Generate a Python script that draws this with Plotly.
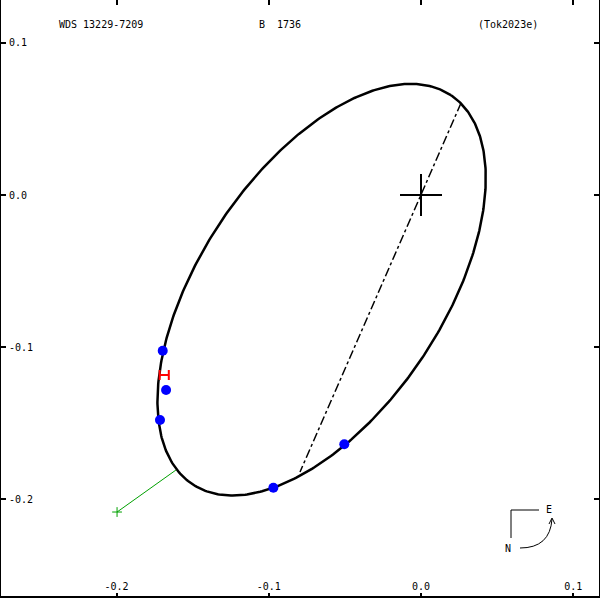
import numpy as np
import plotly.graph_objects as go

# ---- data ----
# apparent orbit ellipse: centre, semi-axes (arcsec) and position angle of major axis (deg)
orbit_center = (-0.06530, -0.06222)
orbit_semi_major = 0.15343
orbit_semi_minor = 0.07986
orbit_angle_deg = 56.39

obs_x = [-0.1697, -0.1675, -0.1715, -0.0970, -0.0504]
obs_y = [-0.1023, -0.1281, -0.1478, -0.1923, -0.1638]
err_x = [-0.1687]
err_y = [-0.1183]
err_half = [0.003]
node_x = [0.0263, -0.0795]
node_y = [0.0604, -0.1820]
res_x = [-0.1997, -0.1610]
res_y = [-0.2083, -0.1807]
primary_x = [0.0]
primary_y = [0.0]
xtick_vals = [-0.2, -0.1, 0.0, 0.1]
xtick_text = ["-0.2", "-0.1", "0.0", "0.1"]
ytick_vals = [0.1, 0.0, -0.1, -0.2]
ytick_text = ["0.1", "0.0", "-0.1", "-0.2"]
title_left = "WDS 13229-7209"
title_mid = "B  1736"
title_right = "(Tok2023e)"

# ellipse outline from its parameters
t = np.linspace(0, 2*np.pi, 500)
th = np.radians(orbit_angle_deg)
ex = orbit_center[0] + orbit_semi_major*np.cos(t)*np.cos(th) - orbit_semi_minor*np.sin(t)*np.sin(th)
ey = orbit_center[1] + orbit_semi_major*np.cos(t)*np.sin(th) + orbit_semi_minor*np.sin(t)*np.cos(th)

L, R, T, B = 1, 1, 0, 2
W = H = 600
def px(x): return (x - L) / (W - L - R)
def py(y): return (H - B - y) / (H - T - B)

SCALE = 1522.0  # pixels per arcsec in the reference
x0 = (L - 421) / SCALE; x1 = (W - R - 421) / SCALE
y1 = (195 - T) / SCALE; y0 = (195 - (H - B)) / SCALE

fig = go.Figure()
fig.add_trace(go.Scatter(x=ex, y=ey, mode="lines", line=dict(color="black", width=2.5)))
fig.add_trace(go.Scatter(x=node_x, y=node_y, mode="lines", line=dict(color="black", width=1.5, dash="dashdot")))
fig.add_trace(go.Scatter(x=res_x, y=res_y, mode="lines", line=dict(color="#00a000", width=1)))
fig.add_trace(go.Scatter(x=res_x[:1], y=res_y[:1], mode="markers",
                         marker=dict(symbol="cross-thin", size=7, line=dict(color="#00a000", width=1))))
fig.add_trace(go.Scatter(x=obs_x, y=obs_y, mode="markers", marker=dict(color="#0000ff", size=10)))
fig.add_trace(go.Scatter(x=err_x, y=err_y, mode="markers", marker=dict(size=0.1, color="red"),
                         error_x=dict(type="data", array=err_half, color="red", thickness=2, width=5)))
fig.add_trace(go.Scatter(x=primary_x, y=primary_y, mode="markers",
                         marker=dict(symbol="cross-thin", size=30, line=dict(color="black", width=2))))

font = dict(family="DejaVu Sans Mono", size=10, color="black")
def ann(text, x, y):
    return dict(text=text, x=px(x), y=py(y), xref="paper", yref="paper", showarrow=False,
                xanchor="center", yanchor="middle", font=font)

fig.update_layout(
    width=W, height=H, margin=dict(l=L, r=R, t=T, b=B, autoexpand=False),
    paper_bgcolor="white", plot_bgcolor="white", showlegend=False, font=font,
    xaxis=dict(range=[x0, x1], tickvals=xtick_vals, ticktext=xtick_text, ticks="inside",
               ticklen=5, tickwidth=2, tickcolor="black", showline=False, mirror="ticks",
               showgrid=False, zeroline=False, ticklabelposition="inside", tickfont=font),
    yaxis=dict(range=[y0, y1], tickvals=ytick_vals, ticktext=ytick_text, ticks="inside",
               ticklen=5, tickwidth=2, tickcolor="black", showline=True, linewidth=3,
               linecolor="black", mirror="ticks", showgrid=False, zeroline=False,
               ticklabelposition="inside", ticklabelstandoff=2, tickfont=font),
    shapes=[
        dict(type="line", xref="paper", yref="paper", x0=0, x1=1, y0=py(597), y1=py(597),
             line=dict(color="black", width=2)),
        dict(type="line", xref="paper", yref="paper", x0=px(511), x1=px(511), y0=py(510), y1=py(538),
             line=dict(color="black", width=1)),
        dict(type="line", xref="paper", yref="paper", x0=px(511), x1=px(539), y0=py(510), y1=py(510),
             line=dict(color="black", width=1)),
        dict(type="path", xref="paper", yref="paper",
             path=f"M {px(520)},{py(548)} Q {px(550)},{py(548)} {px(552)},{py(519)}",
             line=dict(color="black", width=1)),
        dict(type="path", xref="paper", yref="paper",
             path=f"M {px(549)},{py(524)} L {px(552)},{py(518)} L {px(555)},{py(524)}",
             line=dict(color="black", width=1)),
    ],
    annotations=[
        ann(title_left, 101, 25),
        ann(title_mid, 280, 25),
        ann(title_right, 507.5, 25),
        ann("E", 549, 509),
        ann("N", 508, 548),
    ],
)
fig.write_html("out.html", config={"displayModeBar": False},
               post_script="document.body.style.margin='0';document.body.style.padding='0';")
